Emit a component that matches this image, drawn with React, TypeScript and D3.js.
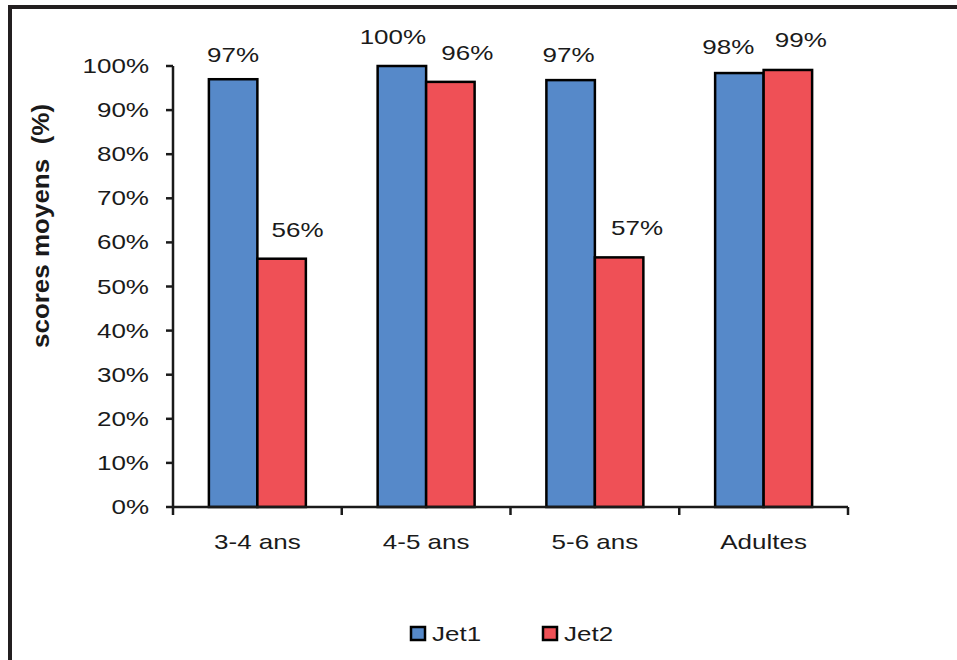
import React from "react";
import * as d3 from "d3";

const categories = ["3-4 ans", "4-5 ans", "5-6 ans", "Adultes"];
const seriesNames = ["Jet1", "Jet2"];
const jet1 = [97.0, 100.0, 96.8, 98.4];
const jet2 = [56.3, 96.4, 56.6, 99.1];
const yTicks = [0, 10, 20, 30, 40, 50, 60, 70, 80, 90, 100];
const colors = ["#5689C9", "#EF5056"];
// label nudges (dx, dy from bar top to label baseline)
const labelDx = [[0, -9, -2, -11], [16, 17, 18, 13]];
const labelDy = [[-17, -22, -18, -19], [-22, -22, -22, -23]];

const W = 957, H = 660;
const X0 = 173, X1 = 848, Y0 = 507, Y1 = 66;
const SX = 1.3;
const ink = "#1a1a1a";
const font = "'Liberation Sans', Arial, sans-serif";

export default function App() {
  const x = d3.scaleBand<string>().domain(categories).range([X0, X1]).padding(0);
  const xi = d3.scaleBand<string>().domain(seriesNames).range([0, x.bandwidth()]).paddingInner(0).paddingOuter(0.74);
  const y = d3.scaleLinear().domain([0, 100]).range([Y0, Y1]);
  const series = [jet1, jet2];

  const stretchText = (tx: number, ty: number, txt: string, anchor: string, size = 20, weight = "normal", key?: any) => (
    <g key={key} transform={`translate(${tx},${ty}) scale(${SX},1)`}>
      <text x={0} y={0} textAnchor={anchor as any} fontFamily={font} fontSize={size} fontWeight={weight} fill={ink}>{txt}</text>
    </g>
  );

  return (
    <svg width={W} height={H} style={{ position: "absolute", left: 0, top: 0, display: "block", background: "#fff" }}>
      <rect x={0} y={0} width={W} height={H} fill="#fff" />
      {/* frame */}
      <line x1={8} x2={W} y1={7} y2={7} stroke="#231f20" strokeWidth={4} />
      <line x1={10} x2={10} y1={5} y2={H} stroke="#231f20" strokeWidth={4} />

      {/* bars */}
      {series.map((vals, si) =>
        vals.map((v, ci) => {
          const bx = (x(categories[ci]) as number) + (xi(seriesNames[si]) as number);
          return (
            <rect key={`b${si}-${ci}`} x={bx} y={y(v)} width={xi.bandwidth()} height={Y0 - y(v)}
              fill={colors[si]} stroke="#000" strokeWidth={2.5} />
          );
        })
      )}

      {/* y axis */}
      <line x1={X0} x2={X0} y1={Y1} y2={Y0} stroke={ink} strokeWidth={2.5} />
      {yTicks.map((t) => (
        <g key={`yt${t}`}>
          <line x1={X0 - 7} x2={X0} y1={y(t)} y2={y(t)} stroke={ink} strokeWidth={2.5} />
          {stretchText(149, y(t) + 7, `${t}%`, "end")}
        </g>
      ))}

      {/* x axis */}
      <line x1={X0} x2={X1} y1={Y0} y2={Y0} stroke={ink} strokeWidth={2.5} />
      {[...categories.map((c) => x(c) as number), X1].map((px, i) => (
        <line key={`xt${i}`} x1={px} x2={px} y1={Y0} y2={Y0 + 8} stroke={ink} strokeWidth={2.5} />
      ))}
      {categories.map((c, i) => stretchText((x(c) as number) + x.bandwidth() / 2, 549, c, "middle", 20, "normal", `xl${i}`))}

      {/* value labels */}
      {series.map((vals, si) =>
        vals.map((v, ci) => {
          const cx = (x(categories[ci]) as number) + (xi(seriesNames[si]) as number) + xi.bandwidth() / 2;
          return stretchText(cx + labelDx[si][ci], y(v) + labelDy[si][ci], `${Math.round(v)}%`, "middle", 20, "normal", `vl${si}-${ci}`);
        })
      )}

      {/* y title */}
      <g transform={`translate(49,${226}) scale(0.95,1) rotate(-90)`}>
        <text x={0} y={0} textAnchor="middle" fontFamily={font} fontSize={26} fontWeight="bold" fill={ink} style={{ whiteSpace: "pre" }}>
          {"scores moyens  (%)"}
        </text>
      </g>

      {/* legend */}
      {seriesNames.map((s, i) => {
        const lx = [411, 543][i];
        return (
          <g key={`lg${i}`}>
            <rect x={lx} y={627} width={14} height={13} fill={colors[i]} stroke="#000" strokeWidth={2.5} />
            {stretchText(lx + 21, 641, s, "start", 20, "normal")}
          </g>
        );
      })}
    </svg>
  );
}
